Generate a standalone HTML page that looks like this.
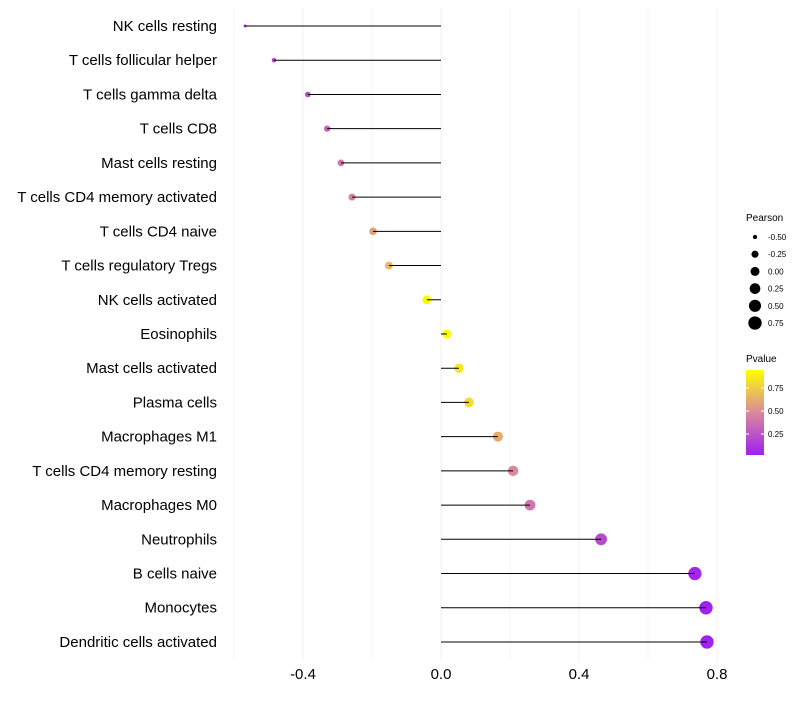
<!DOCTYPE html>
<html><head><meta charset="utf-8"><style>
body{margin:0;background:#fff;font-family:"Liberation Sans",sans-serif}
</style></head><body>
<svg id="c" width="800" height="700" xmlns="http://www.w3.org/2000/svg">
<defs><linearGradient id="pg" x1="0" y1="1" x2="0" y2="0">
<stop offset="0" stop-color="#a020f0"/><stop offset="0.5" stop-color="#d98a9c"/><stop offset="1" stop-color="#ffff00"/></linearGradient></defs>
<g id="grid"></g><g id="dots"></g><g id="marks"></g><g id="ylab"></g><g id="xlab"></g>
<g font-size="10" fill="#000">
<text x="746" y="221">Pearson</text>
<g id="sizeleg" font-size="8"></g></g>
<g>
<text x="746" y="362" font-size="10">Pvalue</text>
<rect x="746" y="370" width="18" height="85" fill="url(#pg)"/>
<g id="colleg" font-size="8"></g></g>
</svg>
<script>
const categories=["NK cells resting","T cells follicular helper","T cells gamma delta","T cells CD8","Mast cells resting","T cells CD4 memory activated","T cells CD4 naive","T cells regulatory  Tregs ","NK cells activated","Eosinophils","Mast cells activated","Plasma cells","Macrophages M1","T cells CD4 memory resting","Macrophages M0","Neutrophils","B cells naive","Monocytes","Dendritic cells activated"];
const pearson=[-0.568,-0.484,-0.386,-0.33,-0.29,-0.258,-0.197,-0.151,-0.041,0.017,0.052,0.081,0.165,0.209,0.258,0.464,0.736,0.768,0.771];
const pvalue=[0.08,0.12,0.22,0.32,0.4,0.45,0.6,0.7,0.96,0.98,0.9,0.85,0.65,0.5,0.4,0.2,0.03,0.01,0.01];
const xticks=[-0.4,0,0.4,0.8];
const xtickLabels=["-0.4","0.0","0.4","0.8"];
const sizeLegVals=[-0.5,-0.25,0,0.25,0.5,0.75];
const sizeLegLabels=["-0.50","-0.25","0.00","0.25","0.50","0.75"];
const colLegVals=[0.25,0.5,0.75];
const colLegLabels=["0.25","0.50","0.75"];
const NS="http://www.w3.org/2000/svg";
const x=v=>441+v*345;
const y=i=>26+i*34.22;
const r=v=>Math.sqrt(2.25+(v+0.57)*32);
function lerp(a,b,t){return a.map((c,i)=>Math.round(c+(b[i]-c)*t));}
function col(p){const A=[160,32,240],M=[217,138,156],B=[255,255,0];
 const c=p<0.5?lerp(A,M,p/0.5):lerp(M,B,(p-0.5)/0.5);return `rgb(${c})`;}
function mk(tag,at,parent){const e=document.createElementNS(NS,tag);for(const k in at)e.setAttribute(k,at[k]);document.getElementById(parent).appendChild(e);return e;}
for(let v=-0.6;v<=0.81;v+=0.2){const g=mk("line",{x1:x(v),x2:x(v),y1:8,y2:660,stroke:"#f0f0f0","stroke-width":xticks.some(t=>Math.abs(t-v)<1e-6)?1:0.6},"grid");

}
categories.forEach((c,i)=>{
 const d=mk("circle",{cx:x(pearson[i]),cy:y(i),r:r(pearson[i]),fill:col(pvalue[i])},"dots");
 
 
 const l=mk("line",{x1:x(0),x2:x(pearson[i]),y1:y(i),y2:y(i),stroke:"#000","stroke-width":1},"marks");
 
 
 const t=mk("text",{x:217,y:y(i)+5,"text-anchor":"end","font-size":"15",fill:"#000"},"ylab");
 
 
 t.textContent=c;
});
xticks.forEach((v,i)=>{const t=mk("text",{x:x(v),y:679,"text-anchor":"middle","font-size":"15",fill:"#000"},"xlab");


t.textContent=xtickLabels[i];});
sizeLegVals.forEach((v,i)=>{const cy=237+i*17.2;
 const c=mk("circle",{cx:755,cy:cy,r:r(v),fill:"#000"},"sizeleg");
 
 
 const t=mk("text",{x:768,y:cy+3},"sizeleg");
 
 
 t.textContent=sizeLegLabels[i];});
colLegVals.forEach((v,i)=>{const cy=457-v*92;
 const t=mk("text",{x:768,y:cy+3},"colleg");
 
 
 t.textContent=colLegLabels[i];
 mk("line",{x1:746,x2:749,y1:cy,y2:cy,stroke:"#fff"},"colleg");
 mk("line",{x1:761,x2:764,y1:cy,y2:cy,stroke:"#fff"},"colleg");});
</script>
</body></html>
